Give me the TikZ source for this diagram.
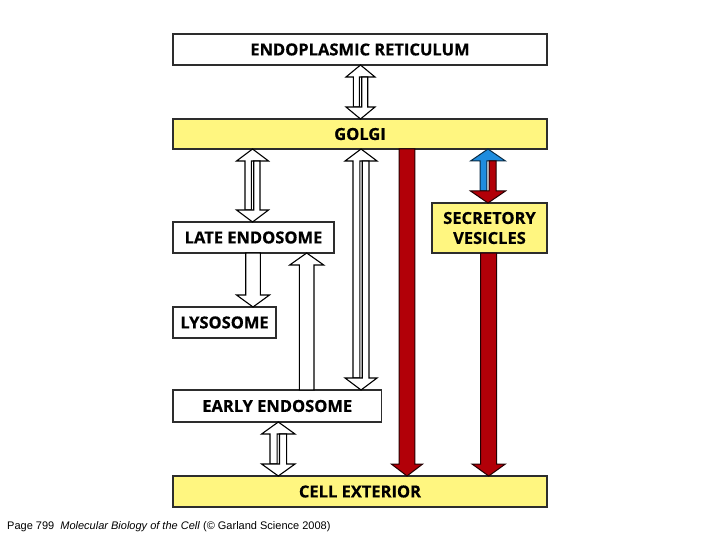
\documentclass[tikz,border=0pt]{standalone}
\usepackage{fontspec}
\usetikzlibrary{calc}
\newfontfamily\lblfont{Open Sans}[BoldFeatures={FakeBold=0.6}]
\newfontfamily\footfont{Liberation Sans}
\definecolor{boxyellow}{RGB}{255,246,128}
\definecolor{arrred}{RGB}{178,0,8}
\definecolor{arrblue}{RGB}{30,140,222}
\definecolor{edge}{RGB}{45,45,45}
\tikzset{
  box/.style={draw=edge, line width=1.3bp, rectangle, inner sep=0pt, outer sep=0pt,
    font=\lblfont\bfseries\fontsize{16.5bp}{20bp}\selectfont, align=center, text=black},
  ybox/.style={box, fill=boxyellow},
  wbox/.style={box, fill=white},
  hollow/.style={draw=black, fill=white, line width=1.1bp, line join=miter},
  redarr/.style={draw=black!80!arrred, fill=arrred, line width=1bp, line join=miter},
  bluearr/.style={draw=black!70!arrblue, fill=arrblue, line width=1bp, line join=miter},
}
% single up arrow: style, cx, shaft half width, head half width, tip anchor (top), tail anchor (bottom)
\newcommand\arrUp[6]{%
  \draw[#1] let \p1=(#5), \p2=(#6) in
   ({(#2-#3)*1bp},\y2) -- ({(#2-#3)*1bp},{\y1-12bp}) -- ({(#2-#4)*1bp},{\y1-12bp})
   -- ({#2*1bp},\y1) -- ({(#2+#4)*1bp},{\y1-12bp}) -- ({(#2+#3)*1bp},{\y1-12bp})
   -- ({(#2+#3)*1bp},\y2) -- cycle;}
% single down arrow: style, cx, shaft half width, head half width, tip anchor (bottom), tail anchor (top)
\newcommand\arrDown[6]{%
  \draw[#1] let \p1=(#5), \p2=(#6) in
   ({(#2-#3)*1bp},\y2) -- ({(#2-#3)*1bp},{\y1+12bp}) -- ({(#2-#4)*1bp},{\y1+12bp})
   -- ({#2*1bp},\y1) -- ({(#2+#4)*1bp},{\y1+12bp}) -- ({(#2+#3)*1bp},{\y1+12bp})
   -- ({(#2+#3)*1bp},\y2) -- cycle;}
% double arrow: upstyle, downstyle, cx, shaft width, head half width, top anchor, bottom anchor
\newcommand\arrBoth[7]{%
  \draw[#1] let \p1=(#6), \p2=(#7) in
   ({(#3-#4)*1bp},{\y2+12bp}) -- ({(#3-#4)*1bp},{\y1-12bp}) -- ({(#3-#5)*1bp},{\y1-12bp})
   -- ({#3*1bp},\y1) -- ({(#3+#5)*1bp},{\y1-12bp}) -- ({(#3-1.2)*1bp},{\y1-12bp})
   -- ({(#3-1.2)*1bp},{\y2+12bp}) -- cycle;
  \draw[#2] let \p1=(#6), \p2=(#7) in
   ({(#3+1.2)*1bp},{\y1-12bp}) -- ({(#3+1.2)*1bp},{\y2+12bp}) -- ({(#3-#5)*1bp},{\y2+12bp})
   -- ({#3*1bp},\y2) -- ({(#3+#5)*1bp},{\y2+12bp}) -- ({(#3+#4)*1bp},{\y2+12bp})
   -- ({(#3+#4)*1bp},{\y1-12bp}) -- cycle;}
\begin{document}
\begin{tikzpicture}[x=1bp,y=-1bp]
\useasboundingbox (0,0) rectangle (720,540);
\fill[white] (0,0) rectangle (720,540);

\node[wbox, minimum width=374bp, minimum height=31bp] (er) at (360,49.5) {ENDOPLASMIC RETICULUM};
\node[ybox, minimum width=374bp, minimum height=30bp] (golgi) at (360,134) {GOLGI};
\node[wbox, minimum width=161bp, minimum height=31bp] (late) at (253.5,237.5) {LATE ENDOSOME};
\node[ybox, minimum width=115bp, minimum height=50bp] (secv) at (489.5,228) {SECRETORY\\VESICLES};
\node[wbox, minimum width=103bp, minimum height=31bp] (lyso) at (224.5,322.5) {LYSOSOME};
\node[wbox, minimum width=208.5bp, minimum height=32bp] (early) at (277.25,406) {EARLY ENDOSOME};
\node[ybox, minimum width=374bp, minimum height=31bp] (cellext) at (360,491.5) {CELL EXTERIOR};

\arrBoth{hollow}{hollow}{360.5}{7.2}{14.5}{er.south}{golgi.north}
\arrBoth{hollow}{hollow}{252.5}{7.5}{16}{golgi.south}{late.north}
\arrBoth{hollow}{hollow}{361}{8}{16}{golgi.south}{early.north}
\arrDown{hollow}{253}{7.3}{16.5}{lyso.north}{late.south}
\arrUp{hollow}{306.7}{7.3}{17}{late.south}{early.north}
\arrBoth{hollow}{hollow}{278.3}{8.3}{16.7}{early.south}{cellext.north}
\arrDown{redarr}{407}{7.8}{15.7}{cellext.north}{golgi.south}
\arrDown{redarr}{488.7}{8}{16.7}{cellext.north}{secv.south}
\arrBoth{bluearr}{redarr}{488}{8}{17.5}{golgi.south}{secv.north}

\node[anchor=base west, inner sep=0pt, font=\footfont\fontsize{11bp}{13bp}\selectfont] (foot) at (7,529)
  {Page 799\ \ \textit{Molecular Biology of the Cell} (© Garland Science 2008)};
\end{tikzpicture}
\end{document}
